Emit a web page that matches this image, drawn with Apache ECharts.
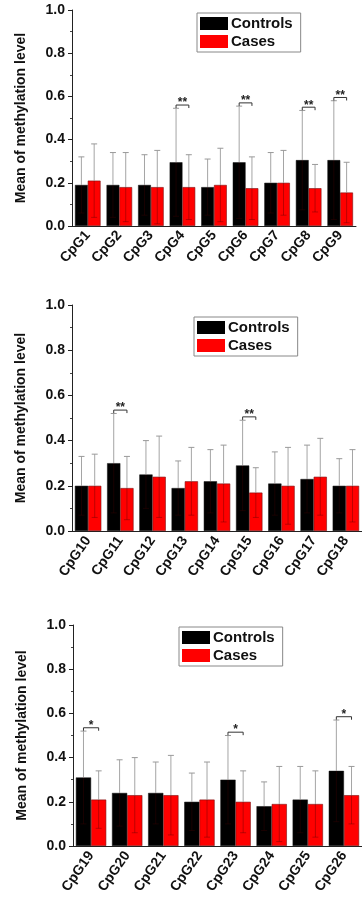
<!DOCTYPE html>
<html><head><meta charset="utf-8">
<script src="https://cdn.jsdelivr.net/npm/echarts@6/dist/echarts.min.js"></script>
<style>html,body{margin:0;padding:0;background:#fff}#c{width:362px;height:902px}</style>
</head><body><div id="c"></div>
<script>
// Panel 1
const cats1 = ['CpG1','CpG2','CpG3','CpG4','CpG5','CpG6','CpG7','CpG8','CpG9'];
const controls1 = [0.19,0.19,0.19,0.295,0.18,0.295,0.20,0.305,0.305];
const controlsSD1 = [0.13,0.15,0.14,0.25,0.13,0.26,0.14,0.23,0.275];
const cases1 = [0.21,0.18,0.18,0.18,0.19,0.175,0.20,0.175,0.155];
const casesSD1 = [0.17,0.16,0.17,0.15,0.17,0.145,0.15,0.11,0.14];
const sig1 = [3,5,7,8];
// Panel 2
const cats2 = ['CpG10','CpG11','CpG12','CpG13','CpG14','CpG15','CpG16','CpG17','CpG18'];
const controls2 = [0.20,0.30,0.25,0.19,0.22,0.29,0.21,0.23,0.20];
const controlsSD2 = [0.13,0.22,0.15,0.12,0.14,0.20,0.14,0.15,0.12];
const cases2 = [0.20,0.19,0.24,0.22,0.21,0.17,0.20,0.24,0.20];
const casesSD2 = [0.14,0.14,0.18,0.15,0.17,0.11,0.17,0.17,0.16];
const sig2 = [1,5];
// Panel 3
const cats3 = ['CpG19','CpG20','CpG21','CpG22','CpG23','CpG24','CpG25','CpG26'];
const controls3 = [0.31,0.24,0.24,0.20,0.30,0.18,0.21,0.34];
const controlsSD3 = [0.21,0.15,0.14,0.13,0.20,0.11,0.15,0.23];
const cases3 = [0.21,0.23,0.23,0.21,0.20,0.19,0.19,0.23];
const casesSD3 = [0.13,0.17,0.18,0.17,0.14,0.17,0.15,0.13];
const sig3 = [0,4,7];

const yTicks = [0,0.2,0.4,0.6,0.8,1.0];
const FONT = "'Liberation Sans', Arial, sans-serif";

const panels = [
  {cats:cats1, ctrl:controls1, ctrlSD:controlsSD1, cas:cases1, casSD:casesSD1, sig:sig1, star:'**',
   grid:{left:72,top:10,width:284,height:216}, legend:{left:197,top:13}, gap:0.19, rot:48},
  {cats:cats2, ctrl:controls2, ctrlSD:controlsSD2, cas:cases2, casSD:casesSD2, sig:sig2, star:'**',
   grid:{left:72,top:305,width:297,height:226}, legend:{left:194,top:317}, gap:0.18, rot:55},
  {cats:cats3, ctrl:controls3, ctrlSD:controlsSD3, cas:cases3, casSD:casesSD3, sig:sig3, star:'*',
   grid:{left:73,top:625,width:297,height:221}, legend:{left:179,top:627}, gap:0.16, rot:55}
];

function errRender(sign, gap){
  return function(params, api){
    const j = api.value(0), m = api.value(1), sd = api.value(2);
    const band = api.size([1,0])[0];
    const bw = band*(1-gap)/2;
    const c = api.coord([j,m]);
    const x = c[0] + sign*bw/2;
    const top = api.coord([j,m+sd])[1];
    const bot = api.coord([j,Math.max(0,m-sd)])[1];
    const cap = 3;
    return {type:'group', children:[
      {type:'line', shape:{x1:x,y1:c[1],x2:x,y2:top}, style:{stroke:'#a5a5a5',lineWidth:1}},
      {type:'line', shape:{x1:x-cap,y1:top,x2:x+cap,y2:top}, style:{stroke:'#999',lineWidth:1}},
      {type:'line', shape:{x1:x,y1:c[1],x2:x,y2:bot}, style:{stroke:'rgba(70,0,0,0.35)',lineWidth:1}},
      {type:'line', shape:{x1:x-cap,y1:bot,x2:x+cap,y2:bot}, style:{stroke:'rgba(70,0,0,0.35)',lineWidth:1}}
    ]};
  };
}
function sigRender(gap, star){
  return function(params, api){
    const j = api.value(0), h = api.value(1);
    const band = api.size([1,0])[0];
    const bw = band*(1-gap)/2;
    const c = api.coord([j,h]);
    const xl = c[0]-bw/2, xr = c[0]+bw/2, y = c[1];
    return {type:'group', children:[
      {type:'polyline', shape:{points:[[xl,y+3],[xl,y],[xr,y],[xr,y+3]]}, style:{stroke:'#333',lineWidth:1,fill:null}},
      {type:'text', style:{text:star, x:c[0], y:y+4, align:'center', verticalAlign:'bottom', font:'bold 12px '+FONT, fill:'#222'}}
    ]};
  };
}

const option = {animation:false, backgroundColor:'#fff', grid:[], xAxis:[], yAxis:[], legend:[], series:[]};
panels.forEach((p,i)=>{
  option.grid.push(Object.assign({containLabel:false}, p.grid));
  option.xAxis.push({type:'category', gridIndex:i, data:p.cats,
    axisLine:{lineStyle:{color:'#222',width:1}},
    axisTick:{length:3, lineStyle:{color:'#222'}},
    axisLabel:{rotate:p.rot, interval:0, margin:7, fontWeight:'bold', fontSize:14, color:'#111', fontFamily:FONT}});
  option.yAxis.push({type:'value', gridIndex:i, min:yTicks[0], max:yTicks[yTicks.length-1], interval:0.2,
    name:'Mean of methylation level', nameLocation:'middle', nameGap:44,
    nameTextStyle:{fontWeight:'bold', fontSize:14, color:'#111', fontFamily:FONT},
    axisLine:{show:true, lineStyle:{color:'#222',width:1}},
    axisTick:{show:true, length:4, lineStyle:{color:'#222'}},
    minorTick:{show:true, splitNumber:2, length:2, lineStyle:{color:'#444'}},
    splitLine:{show:false},
    axisLabel:{formatter:v=>v.toFixed(1), margin:7, fontWeight:'bold', fontSize:14, color:'#111', fontFamily:FONT}});
  option.legend.push({data:['Controls','Cases'], left:p.legend.left, top:p.legend.top, orient:'vertical',
    itemWidth:28, itemHeight:13, itemGap:3, padding:[3,8,3,3], borderColor:'#888', borderWidth:1, icon:'rect',
    itemStyle:{borderWidth:0},
    textStyle:{fontWeight:'bold', fontSize:15, color:'#111', fontFamily:FONT, padding:[0,0,0,-2]}});
  option.series.push(
    {name:'Controls', type:'bar', xAxisIndex:i, yAxisIndex:i, data:p.ctrl, barGap:'0%', barCategoryGap:(p.gap*100)+'%',
      itemStyle:{color:'#000', borderColor:'#111', borderWidth:0.5}},
    {name:'Cases', type:'bar', xAxisIndex:i, yAxisIndex:i, data:p.cas, barGap:'0%', barCategoryGap:(p.gap*100)+'%',
      itemStyle:{color:'#ff0000', borderColor:'#7a1010', borderWidth:0.6}},
    {name:'errCtrl'+i, type:'custom', xAxisIndex:i, yAxisIndex:i, z:5,
      data:p.ctrl.map((v,j)=>[j,v,p.ctrlSD[j]]), renderItem:errRender(-1,p.gap), encode:{x:0,y:1}},
    {name:'errCase'+i, type:'custom', xAxisIndex:i, yAxisIndex:i, z:5,
      data:p.cas.map((v,j)=>[j,v,p.casSD[j]]), renderItem:errRender(1,p.gap), encode:{x:0,y:1}},
    {name:'sig'+i, type:'custom', xAxisIndex:i, yAxisIndex:i, z:6,
      data:p.sig.map(j=>[j, p.ctrl[j]+p.ctrlSD[j]+0.015]), renderItem:sigRender(p.gap,p.star), encode:{x:0,y:1}}
  );
});
const chart = echarts.init(document.getElementById('c'), null, {renderer:'canvas'});
chart.setOption(option);
</script>
</body></html>
